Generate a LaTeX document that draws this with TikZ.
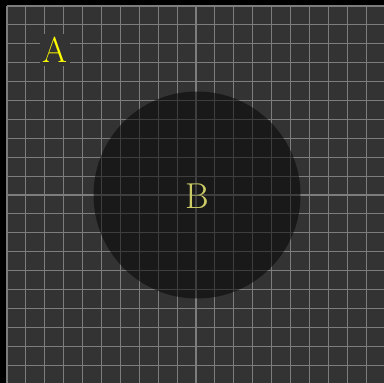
\documentclass[tikz,border=0pt]{standalone}
\definecolor{bgdark}{RGB}{51,51,51}
\definecolor{gridc}{RGB}{125,125,125}
\definecolor{labA}{RGB}{255,255,0}
\definecolor{labB}{RGB}{204,204,102}
\tikzset{
  gridline/.style={draw=gridc, line width=1.1pt},
  disc/.style={circle, fill=black, fill opacity=0.5, draw=none, minimum size=207pt, inner sep=0pt},
  lab/.style={font=\fontsize{36}{36}\selectfont, inner sep=3pt}
}
\begin{document}
\begin{tikzpicture}[x=1pt,y=-1pt]
\useasboundingbox (0,0) rectangle (384,383);
\fill[black] (0,0) rectangle (384,383);
\fill[bgdark] (7,6) rectangle (384,383);
\foreach \i in {0,1,2,3,4,5,6,7,8,9,10,11,12,13,14,15,16,17,18,19} {
  \draw[gridline] ({7+18.9*\i},6) -- ({7+18.9*\i},383);
}
\foreach \j in {0,1,2,3,4,5,6,7,8,9,10,11,12,13,14,15,16,17,18,19} {
  \draw[gridline] (7,{6+18.9*\j}) -- (384,{6+18.9*\j});
}
\node[disc] (C) at (197,195) {};
\node[lab, text=labB] (B) at (197,196) {B};
\node[lab, text=labA, fill=bgdark] (A) at (55,50) {A};
\end{tikzpicture}
\end{document}
